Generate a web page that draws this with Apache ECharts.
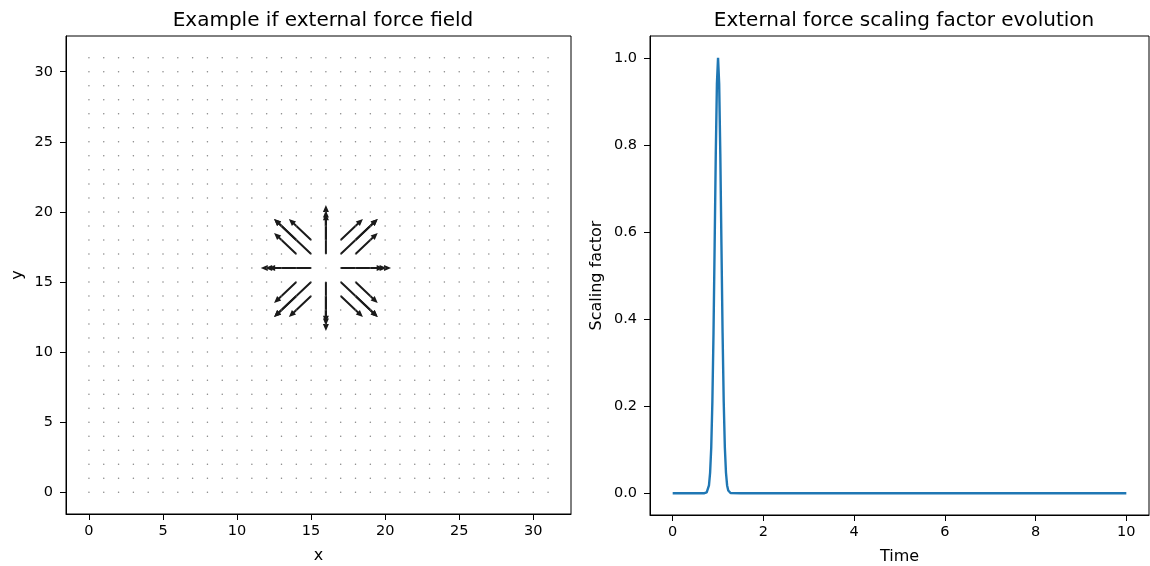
<!DOCTYPE html>
<html>
<head>
<meta charset="utf-8">
<script src="https://cdn.jsdelivr.net/npm/echarts@6/dist/echarts.min.js"></script>
<style>
html,body{margin:0;padding:0;background:#fff;}
#chart{width:1150px;height:566px;}
</style>
</head>
<body>
<div id="chart"></div>
<script>
// ---- data ----
const gridValues = [0,1,2,3,4,5,6,7,8,9,10,11,12,13,14,15,16,17,18,19,20,21,22,23,24,25,26,27,28,29,30,31];
const fieldTicks = [0,5,10,15,20,25,30];
// non-zero force vectors: [x, y, u, v]
const arrows = [
  [17,17,2.5,2.5],[18,18,1.5,1.5],[17,18,1.5,1.5],[18,17,1.5,1.5],
  [15,17,-2.5,2.5],[14,18,-1.5,1.5],[15,18,-1.5,1.5],[14,17,-1.5,1.5],
  [17,15,2.5,-2.5],[18,14,1.5,-1.5],[17,14,1.5,-1.5],[18,15,1.5,-1.5],
  [15,15,-2.5,-2.5],[14,14,-1.5,-1.5],[15,14,-1.5,-1.5],[14,15,-1.5,-1.5],
  [16,17,0,3.5],[16,18,0,2.1],[16,19,0,0.9],
  [16,15,0,-3.5],[16,14,0,-2.1],[16,13,0,-0.9],
  [17,16,3.4,0],[18,16,2.1,0],[19,16,0.9,0],
  [15,16,-3.4,0],[14,16,-2.1,0],[13,16,-0.9,0]
];
const timeValues  = [0, 0.5, 0.7, 0.725, 0.75, 0.775, 0.8, 0.825, 0.85, 0.875, 0.9, 0.925, 0.95, 0.975, 1.0, 1.025, 1.05, 1.075, 1.1, 1.125, 1.15, 1.175, 1.2, 1.225, 1.25, 1.275, 1.3, 1.5, 10];
const scaleValues = [0, 0, 0.0001, 0.0005, 0.0019, 0.0063, 0.018, 0.047, 0.105, 0.21, 0.368, 0.57, 0.779, 0.94, 1.0, 0.94, 0.779, 0.57, 0.368, 0.21, 0.105, 0.047, 0.018, 0.0063, 0.0019, 0.0005, 0.0001, 0, 0];
const timeTicks  = [0,2,4,6,8,10];
const scaleTicks = [0,0.2,0.4,0.6,0.8,1.0];

// ---- build series data ----
const dots = [];
gridValues.forEach(y => gridValues.forEach(x => dots.push([x, y])));
const lineData = timeValues.map((t, i) => [t, scaleValues[i]]);

const FONT = 'DejaVu Sans';
const chart = echarts.init(document.getElementById('chart'));

function arrowItem(params, api) {
  const x = api.value(0), y = api.value(1), u = api.value(2), v = api.value(3);
  const p0 = api.coord([x, y]);
  const p1 = api.coord([x + u, y + v]);
  const dx = p1[0] - p0[0], dy = p1[1] - p0[1];
  const L = Math.sqrt(dx * dx + dy * dy);
  const ux = dx / L, uy = dy / L, nx = -uy, ny = ux;
  const sw = 1.0, hw = 3.0, hl = Math.min(7, L * 0.9);
  const bx = p1[0] - ux * hl, by = p1[1] - uy * hl;
  const pts = [
    [p0[0] + nx * sw, p0[1] + ny * sw],
    [bx + nx * sw, by + ny * sw],
    [bx + nx * hw, by + ny * hw],
    [p1[0], p1[1]],
    [bx - nx * hw, by - ny * hw],
    [bx - nx * sw, by - ny * sw],
    [p0[0] - nx * sw, p0[1] - ny * sw]
  ];
  return { type: 'polygon', shape: { points: pts }, style: { fill: '#1a1a1a' } };
}

const axisCommon = {
  axisLine: { show: true, onZero: false, lineStyle: { color: '#000', width: 1 } },
  axisTick: { show: true, length: 6, lineStyle: { color: '#000', width: 1 } },
  axisLabel: { color: '#000', fontFamily: FONT, fontSize: 14.5, margin: 10 },
  splitLine: { show: false },
  nameTextStyle: { color: '#000', fontFamily: FONT, fontSize: 16 }
};
function mkAxis(base, ticks, extraLabel) {
  return Object.assign({}, axisCommon, base, {
    axisTick: Object.assign({}, axisCommon.axisTick, { customValues: ticks }),
    axisLabel: Object.assign({}, axisCommon.axisLabel, { customValues: ticks }, extraLabel || {})
  });
}

chart.setOption({
  animation: false,
  backgroundColor: '#fff',
  title: [
    { text: 'Example if external force field', left: 318, top: 6, textAlign: 'center',
      textStyle: { fontFamily: FONT, fontSize: 20, fontWeight: 'normal', color: '#000' } },
    { text: 'External force scaling factor evolution', left: 899, top: 6, textAlign: 'center',
      textStyle: { fontFamily: FONT, fontSize: 20, fontWeight: 'normal', color: '#000' } }
  ],
  grid: [
    { left: 66, top: 36, width: 505, height: 478, show: true, borderColor: '#000', borderWidth: 1,
      backgroundColor: 'transparent', containLabel: false, outerBoundsMode: 'none' },
    { left: 650, top: 36, width: 499, height: 479, show: true, borderColor: '#000', borderWidth: 1,
      backgroundColor: 'transparent', containLabel: false, outerBoundsMode: 'none' }
  ],
  xAxis: [
    mkAxis({ type: 'value', gridIndex: 0, min: -1.55, max: 32.55, name: 'x', nameLocation: 'middle', nameGap: 34 }, fieldTicks),
    mkAxis({ type: 'value', gridIndex: 1, min: -0.5, max: 10.5, name: 'Time', nameLocation: 'middle', nameGap: 34 }, timeTicks)
  ],
  yAxis: [
    mkAxis({ type: 'value', gridIndex: 0, min: -1.55, max: 32.55, name: 'y', nameLocation: 'middle', nameGap: 40 }, fieldTicks, { margin: 13 }),
    mkAxis({ type: 'value', gridIndex: 1, min: -0.05, max: 1.05, name: 'Scaling factor', nameLocation: 'middle', nameGap: 45 }, scaleTicks, { margin: 13, formatter: v => v.toFixed(1) })
  ],
  series: [
    { type: 'scatter', xAxisIndex: 0, yAxisIndex: 0, data: dots, symbol: 'circle', symbolSize: 1.5,
      itemStyle: { color: '#666' }, silent: true },
    { type: 'custom', xAxisIndex: 0, yAxisIndex: 0, data: arrows, renderItem: arrowItem, silent: true },
    { type: 'line', xAxisIndex: 1, yAxisIndex: 1, data: lineData, showSymbol: false, smooth: false,
      lineStyle: { color: '#1f77b4', width: 2.4 }, silent: true }
  ]
});
</script>
</body>
</html>
